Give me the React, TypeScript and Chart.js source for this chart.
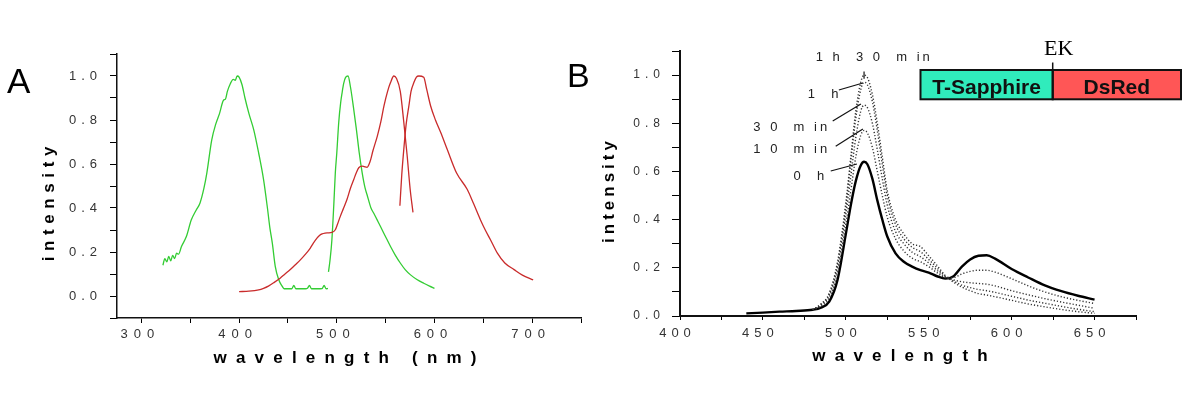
import { useEffect, useRef } from "react";
import { Chart, registerables } from "chart.js";

Chart.register(...registerables);

const SANS = "'Liberation Sans', Arial, Helvetica, sans-serif";
const SERIF = "'Liberation Serif', 'Times New Roman', serif";

// ---------------- Panel A data ----------------
const tSapExWl = [322, 324, 326, 328, 330, 332, 334, 336, 338, 341, 346, 351, 356, 360, 364, 367, 372, 376, 380, 384, 386, 388, 391, 394, 396, 398, 400, 403, 406, 410, 415, 420, 425, 429, 431.5, 434, 437, 440.5, 444, 446, 450, 454, 456, 458, 462, 468, 470, 472, 474, 480, 485, 487, 489, 491];
const tSapExI = [0.14, 0.17, 0.155, 0.18, 0.16, 0.185, 0.17, 0.195, 0.19, 0.225, 0.27, 0.345, 0.39, 0.423, 0.49, 0.56, 0.71, 0.78, 0.83, 0.89, 0.895, 0.93, 0.965, 0.985, 0.98, 1.0, 0.995, 0.96, 0.9, 0.83, 0.755, 0.65, 0.53, 0.4, 0.31, 0.24, 0.135, 0.075, 0.045, 0.033, 0.033, 0.033, 0.048, 0.033, 0.033, 0.033, 0.035, 0.048, 0.033, 0.033, 0.034, 0.048, 0.033, 0.034];

const tSapEmWl = [491.5, 493, 495, 497, 498.5, 500, 502, 504, 505.5, 507, 509, 511.5, 514, 517, 520, 523, 526, 529, 531, 535, 538, 542, 546.5, 551, 555, 560, 565, 570, 575.5, 582, 589, 595, 600];
const tSapEmI = [0.11, 0.16, 0.256, 0.42, 0.56, 0.65, 0.79, 0.88, 0.926, 0.965, 0.994, 1.0, 0.95, 0.86, 0.76, 0.65, 0.56, 0.49, 0.46, 0.4, 0.375, 0.34, 0.3, 0.26, 0.225, 0.185, 0.15, 0.12, 0.096, 0.075, 0.058, 0.045, 0.035];

const dsRedExWl = [400, 410, 420, 425, 430, 436, 442, 447, 452.4, 457, 462.7, 468, 472.9, 476, 479.7, 482, 484.9, 488, 491, 495, 498.5, 501, 503.6, 507, 510.5, 514, 517.4, 520, 522.5, 526, 528, 531, 534, 537, 541.5, 545, 548.3, 552, 555, 558.4, 561, 565, 568.6, 572, 575, 578];
const dsRedExI = [0.02, 0.022, 0.028, 0.035, 0.045, 0.062, 0.081, 0.1, 0.12, 0.14, 0.164, 0.19, 0.218, 0.24, 0.263, 0.274, 0.282, 0.286, 0.287, 0.289, 0.301, 0.33, 0.362, 0.4, 0.44, 0.49, 0.53, 0.56, 0.583, 0.59, 0.588, 0.585, 0.61, 0.66, 0.727, 0.79, 0.864, 0.93, 0.97, 1.0, 0.99, 0.93, 0.79, 0.64, 0.49, 0.38];

const dsRedEmWl = [564.6, 566.5, 568.6, 571, 573.8, 576, 578.9, 581.5, 584, 589, 592, 596, 601, 606.4, 613, 622.5, 633.6, 640, 647, 652, 657.3, 664.4, 672, 681.5, 690, 701];
const dsRedEmI = [0.41, 0.55, 0.667, 0.78, 0.864, 0.93, 0.97, 0.995, 1.0, 0.994, 0.94, 0.865, 0.8, 0.743, 0.667, 0.56, 0.484, 0.42, 0.347, 0.3, 0.256, 0.195, 0.15, 0.12, 0.095, 0.073];

const aYTickLabels = ["0.0", "0.2", "0.4", "0.6", "0.8", "1.0"];
const aXTickLabels = ["300", "400", "500", "600", "700"];

// ---------------- Panel B data ----------------
const b0hWl = [440, 450, 460, 470, 480, 485, 490, 495, 500, 503, 506, 509, 511, 513, 516, 519, 522, 525, 530, 535, 540, 545, 550, 555, 560, 565, 570, 575, 580, 585, 590, 600, 610, 620, 630, 640, 650];
const b0h = [0.011, 0.014, 0.018, 0.021, 0.026, 0.035, 0.06, 0.15, 0.34, 0.46, 0.56, 0.625, 0.64, 0.63, 0.57, 0.48, 0.4, 0.33, 0.26, 0.225, 0.205, 0.19, 0.18, 0.165, 0.155, 0.165, 0.205, 0.235, 0.25, 0.252, 0.238, 0.195, 0.16, 0.127, 0.103, 0.084, 0.068];

const bDotWl = [480, 485, 490, 495, 500, 503, 506, 509, 511, 513, 516, 519, 522, 525, 530, 535, 540, 545, 550, 555, 560, 565, 570, 575, 580, 585, 590, 600, 610, 620, 630, 640, 650];
const b10m = [0.026, 0.04, 0.075, 0.18, 0.38, 0.52, 0.66, 0.75, 0.77, 0.76, 0.7, 0.6, 0.5, 0.41, 0.32, 0.27, 0.24, 0.225, 0.205, 0.18, 0.16, 0.16, 0.175, 0.185, 0.19, 0.19, 0.182, 0.155, 0.125, 0.1, 0.08, 0.065, 0.052];
const b30m = [0.026, 0.045, 0.085, 0.2, 0.42, 0.58, 0.74, 0.85, 0.875, 0.865, 0.8, 0.69, 0.57, 0.46, 0.35, 0.3, 0.265, 0.246, 0.22, 0.19, 0.162, 0.15, 0.142, 0.138, 0.135, 0.132, 0.125, 0.105, 0.088, 0.072, 0.058, 0.045, 0.032];
const b1h = [0.026, 0.048, 0.09, 0.215, 0.45, 0.64, 0.82, 0.94, 0.97, 0.96, 0.89, 0.77, 0.63, 0.5, 0.38, 0.32, 0.285, 0.267, 0.235, 0.2, 0.165, 0.145, 0.128, 0.118, 0.11, 0.105, 0.098, 0.082, 0.066, 0.053, 0.04, 0.028, 0.018];
const b1h30 = [0.026, 0.05, 0.095, 0.225, 0.47, 0.66, 0.85, 0.97, 1.0, 0.99, 0.92, 0.8, 0.66, 0.52, 0.4, 0.34, 0.3, 0.288, 0.25, 0.21, 0.168, 0.14, 0.12, 0.105, 0.093, 0.087, 0.08, 0.065, 0.05, 0.038, 0.027, 0.018, 0.011];

const bYTickLabels = ["0.0", "0.2", "0.4", "0.6", "0.8", "1.0"];
const bXTickLabels = ["400", "450", "500", "550", "600", "650"];

// time labels with leader lines (data coordinates of panel B)
const annText = ["1 h  3 0  m in", "1  h", "3 0  m in", "1 0  m in", "0  h"];
const annTextWl = [481.8, 477, 444.2, 444.2, 468.5];
const annTextI = [1.075, 0.921, 0.784, 0.693, 0.581];
const annFromWl = [511, 495.8, 492.1, 493.9, 490.9];
const annFromI = [1.015, 0.938, 0.809, 0.705, 0.602];
const annToWl = [511, 510.3, 509.1, 510.3, 506.7];
const annToI = [0.985, 0.967, 0.88, 0.776, 0.631];

const legendNames = ["T-Sapphire", "DsRed"];
const linkerName = "EK";
const yTitleText = "intensity";
const aXTitleText = "wavelength (nm)";
const bXTitleText = "wavelength";

function pts(xs: number[], ys: number[]) {
  return xs.map((x, i) => ({ x, y: ys[i] }));
}

function drawSpaced(ctx: CanvasRenderingContext2D, text: string, x: number, y: number, sp: number, align: string) {
  const chars = Array.from(text);
  const ws = chars.map((c) => ctx.measureText(c).width);
  const total = ws.reduce((a, b) => a + b, 0) + sp * (chars.length - 1);
  let cx = align === "center" ? x - total / 2 : align === "right" ? x - total : x;
  ctx.textAlign = "left";
  chars.forEach((c, i) => {
    ctx.fillText(c, cx, y);
    cx += ws[i] + sp;
  });
}

type Deco = {
  offsetX: number;
  letter: string; letterX: number; letterY: number; letterFont: string;
  yLabels: string[]; yLabelGap: number; yLabelFont: string; yLabelSp: number;
  xLabels: string[]; xLabelBase: number; xLabelFont: string; xLabelSp: number; xLabelDx: number;
  titleFont: string;
  yTitle: string; yTitleX: number; yTitleY: number; yTitleSp: number;
  xTitle: string; xTitleX: number; xTitleY: number; xTitleSp: number;
  extra?: (chart: any, ctx: CanvasRenderingContext2D) => void;
};

function decoPlugin(d: Deco) {
  return {
    id: "deco",
    afterDraw(chart: any) {
      const ctx = chart.ctx as CanvasRenderingContext2D;
      const ca = chart.chartArea;
      const xs = chart.scales.x;
      const ys = chart.scales.y;
      const ox = d.offsetX;
      ctx.save();
      ctx.fillStyle = "#000";
      ctx.font = d.letterFont;
      ctx.textBaseline = "alphabetic";
      ctx.textAlign = "left";
      ctx.fillText(d.letter, d.letterX - ox, d.letterY);

      ctx.fillStyle = "#333";
      ctx.font = d.yLabelFont;
      ctx.textBaseline = "middle";
      for (const s of d.yLabels) {
        drawSpaced(ctx, s, ca.left - d.yLabelGap, ys.getPixelForValue(parseFloat(s)), d.yLabelSp, "right");
      }
      ctx.font = d.xLabelFont;
      ctx.textBaseline = "alphabetic";
      for (const s of d.xLabels) {
        drawSpaced(ctx, s, xs.getPixelForValue(parseFloat(s)) + d.xLabelDx, d.xLabelBase, d.xLabelSp, "center");
      }

      ctx.fillStyle = "#000";
      ctx.font = d.titleFont;
      ctx.save();
      ctx.translate(d.yTitleX - ox, d.yTitleY);
      ctx.rotate(-Math.PI / 2);
      drawSpaced(ctx, d.yTitle, 0, 0, d.yTitleSp, "center");
      ctx.restore();
      drawSpaced(ctx, d.xTitle, d.xTitleX - ox, d.xTitleY, d.xTitleSp, "center");

      if (d.extra) d.extra(chart, ctx);
      ctx.restore();
    },
  };
}

function axisOpts(min: number, max: number, step: number, tickLen: number, borderW: number, fit: (s: any) => void) {
  return {
    type: "linear" as const,
    min,
    max,
    ticks: { stepSize: step, display: false, includeBounds: false },
    grid: { drawOnChartArea: false, drawTicks: true, tickLength: tickLen, tickColor: "#000", tickWidth: 1 },
    border: { display: true, color: "#111", width: borderW },
    afterFit: fit,
  };
}

function lineDs(data: any[], color: string, width: number, dash: number[] = []) {
  return {
    data,
    borderColor: color,
    borderWidth: width,
    borderDash: dash,
    pointRadius: 0,
    fill: false,
    cubicInterpolationMode: "monotone" as const,
  };
}

const A_OFFSET = 0;
const B_OFFSET = 560;

function configA(): any {
  return {
    type: "line",
    data: {
      datasets: [
        lineDs(pts(dsRedExWl, dsRedExI), "#c92b2b", 1.3),
        lineDs(pts(dsRedEmWl, dsRedEmI), "#c92b2b", 1.3),
        lineDs(pts(tSapExWl, tSapExI), "#33cc33", 1.3),
        lineDs(pts(tSapEmWl, tSapEmI), "#33cc33", 1.3),
      ],
    },
    options: {
      animation: false,
      responsive: false,
      devicePixelRatio: 1,
      events: [],
      layout: { padding: { left: 0, top: 54, right: 19, bottom: 22 } },
      plugins: { legend: { display: false }, tooltip: { enabled: false } },
      scales: {
        x: axisOpts(275, 750, 50, 5, 1.5, (s: any) => { s.height = 60; }),
        y: axisOpts(-0.1, 1.1, 0.1, 7, 1.5, (s: any) => { s.width = 117; }),
      },
    },
    plugins: [
      decoPlugin({
        offsetX: A_OFFSET,
        letter: "A", letterX: 7, letterY: 93, letterFont: `35px ${SANS}`,
        yLabels: aYTickLabels, yLabelGap: 20, yLabelFont: `13px ${SANS}`, yLabelSp: 5,
        xLabels: aXTickLabels, xLabelBase: 338, xLabelFont: `13px ${SANS}`, xLabelSp: 6, xLabelDx: -4,
        titleFont: `bold 17px ${SANS}`,
        yTitle: yTitleText, yTitleX: 54, yTitleY: 204, yTitleSp: 5.6,
        xTitle: aXTitleText, xTitleX: 345, xTitleY: 363, xTitleSp: 9.2,
      }),
    ],
  };
}

function drawBExtras(chart: any, ctx: CanvasRenderingContext2D) {
  const xs = chart.scales.x;
  const ys = chart.scales.y;
  const ox = B_OFFSET;
  ctx.font = `13px ${SANS}`;
  ctx.fillStyle = "#222";
  ctx.textBaseline = "middle";
  annText.forEach((t, i) => {
    drawSpaced(ctx, t, xs.getPixelForValue(annTextWl[i]), ys.getPixelForValue(annTextI[i]), 3, "left");
  });
  ctx.strokeStyle = "#111";
  ctx.lineWidth = 1.2;
  annText.forEach((_, i) => {
    ctx.beginPath();
    ctx.moveTo(xs.getPixelForValue(annFromWl[i]), ys.getPixelForValue(annFromI[i]));
    ctx.lineTo(xs.getPixelForValue(annToWl[i]), ys.getPixelForValue(annToI[i]));
    ctx.stroke();
  });

  // construct diagram
  const top = 70, h = 29.3, x0 = 920.5 - ox, xm = 1052.7 - ox, x1 = 1181 - ox;
  ctx.fillStyle = "#30ecbc";
  ctx.fillRect(x0, top, xm - x0, h);
  ctx.fillStyle = "#ff5656";
  ctx.fillRect(xm, top, x1 - xm, h);
  ctx.strokeStyle = "#111";
  ctx.lineWidth = 2;
  ctx.strokeRect(x0, top, xm - x0, h);
  ctx.strokeRect(xm, top, x1 - xm, h);
  ctx.fillStyle = "#111";
  ctx.font = `bold 21px ${SANS}`;
  ctx.textBaseline = "alphabetic";
  ctx.textAlign = "center";
  ctx.fillText(legendNames[0], (x0 + xm) / 2, 93.5);
  ctx.fillText(legendNames[1], (xm + x1) / 2, 93.5);
  ctx.lineWidth = 1.5;
  ctx.beginPath();
  ctx.moveTo(xm, 62.5);
  ctx.lineTo(xm, top);
  ctx.stroke();
  ctx.font = `22px ${SERIF}`;
  ctx.fillStyle = "#000";
  ctx.textAlign = "left";
  ctx.fillText(linkerName, 1044 - ox, 55);
}

function configB(): any {
  const dot = [1.2, 2];
  return {
    type: "line",
    data: {
      datasets: [
        lineDs(pts(bDotWl, b10m), "#333", 1.4, dot),
        lineDs(pts(bDotWl, b30m), "#333", 1.4, dot),
        lineDs(pts(bDotWl, b1h), "#333", 1.4, dot),
        lineDs(pts(bDotWl, b1h30), "#333", 1.4, dot),
        lineDs(pts(b0hWl, b0h), "#000", 2.4),
      ],
    },
    options: {
      animation: false,
      responsive: false,
      devicePixelRatio: 1,
      events: [],
      layout: { padding: { left: 0, top: 51, right: 64, bottom: 24 } },
      plugins: { legend: { display: false }, tooltip: { enabled: false } },
      scales: {
        x: axisOpts(400, 675, 25, 4, 2, (s: any) => { s.height = 60; }),
        y: axisOpts(0, 1.1, 0.1, 8, 2, (s: any) => { s.width = 120; }),
      },
    },
    plugins: [
      decoPlugin({
        offsetX: B_OFFSET,
        letter: "B", letterX: 567, letterY: 87, letterFont: `34px ${SANS}`,
        yLabels: bYTickLabels, yLabelGap: 20, yLabelFont: `12px ${SANS}`, yLabelSp: 5,
        xLabels: bXTickLabels, xLabelBase: 337, xLabelFont: `13px ${SANS}`, xLabelSp: 5, xLabelDx: -5,
        titleFont: `bold 17px ${SANS}`,
        yTitle: yTitleText, yTitleX: 614, yTitleY: 192, yTitleSp: 4,
        xTitle: bXTitleText, xTitleX: 900, xTitleY: 361, xTitleSp: 9.2,
        extra: drawBExtras,
      }),
    ],
  };
}

function Panel(props: { make: () => any; left: number; width: number }) {
  const ref = useRef<HTMLCanvasElement>(null);
  useEffect(() => {
    const chart = new Chart(ref.current as HTMLCanvasElement, props.make());
    return () => chart.destroy();
  }, []);
  return (
    <canvas
      ref={ref}
      width={props.width}
      height={400}
      style={{ position: "absolute", left: props.left, top: 0, width: props.width, height: 400 }}
    />
  );
}

export default function App() {
  return (
    <div style={{ position: "absolute", left: 0, top: 0, width: 1200, height: 400, background: "#fff", overflow: "hidden" }}>
      <Panel make={configA} left={0} width={600} />
      <Panel make={configB} left={B_OFFSET} width={640} />
    </div>
  );
}
